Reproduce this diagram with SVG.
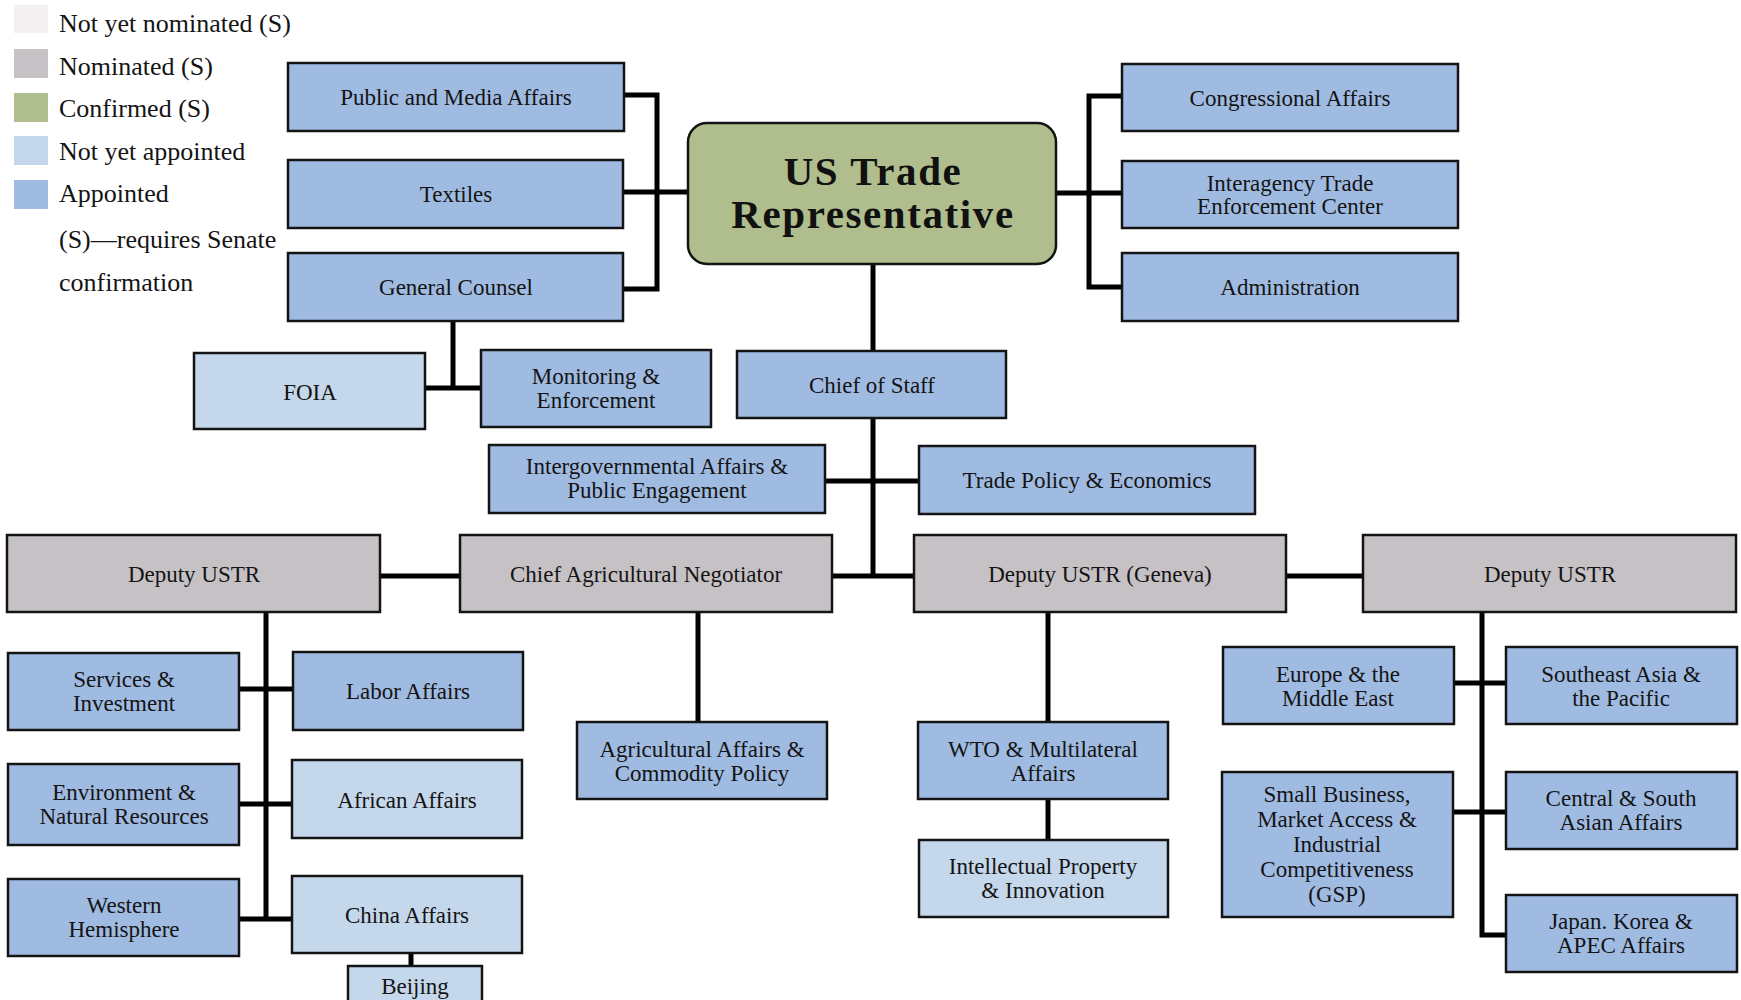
<svg xmlns="http://www.w3.org/2000/svg" width="1741" height="1000" viewBox="0 0 1741 1000">
<style>
.b{stroke:#141414;stroke-width:2.5}
.ap{fill:#a0bbe2}.na{fill:#c5d7eb}.nom{fill:#c6c1c5}.conf{fill:#afbe8c}.nyn{fill:#f2f0f1}
.t{font-family:"Liberation Serif","Times New Roman",serif;font-size:23px;fill:#141414;text-anchor:middle}
.lg{font-family:"Liberation Serif","Times New Roman",serif;font-size:26px;fill:#141414}
.tt{font-family:"Liberation Serif","Times New Roman",serif;font-size:41px;font-weight:bold;fill:#111;text-anchor:middle;letter-spacing:1.6px}
.c{stroke:#000;stroke-width:5;fill:none}
</style>
<rect width="1741" height="1000" fill="#fff"/>
<g id="legend">
<rect class="nyn" x="14" y="5" width="34" height="28"/>
<rect class="nom" x="14" y="49" width="34" height="29"/>
<rect class="conf" x="14" y="93" width="34" height="29"/>
<rect class="na" x="14" y="136" width="34" height="29"/>
<rect class="ap" x="14" y="180" width="34" height="29"/>
<text class="lg" x="59" y="32">Not yet nominated (S)</text>
<text class="lg" x="59" y="75">Nominated (S)</text>
<text class="lg" x="59" y="117">Confirmed (S)</text>
<text class="lg" x="59" y="160">Not yet appointed</text>
<text class="lg" x="59" y="202">Appointed</text>
<text class="lg" x="59" y="248">(S)—requires Senate</text>
<text class="lg" x="59" y="291">confirmation</text>
</g>
<g id="connectors">
<polyline class="c" points="624,95 657,95 657,289 624,289"/>
<line class="c" x1="624" y1="192" x2="688" y2="192"/>
<polyline class="c" points="1122,96 1089,96 1089,287 1122,287"/>
<line class="c" x1="1056" y1="193" x2="1122" y2="193"/>
<line class="c" x1="873" y1="264" x2="873" y2="351"/>
<line class="c" x1="873" y1="418" x2="873" y2="578"/>
<line class="c" x1="825" y1="481" x2="919" y2="481"/>
<line class="c" x1="832" y1="576" x2="914" y2="576"/>
<line class="c" x1="380" y1="576" x2="460" y2="576"/>
<line class="c" x1="1286" y1="576" x2="1363" y2="576"/>
<line class="c" x1="453" y1="321" x2="453" y2="388"/>
<line class="c" x1="425" y1="388" x2="481" y2="388"/>
<line class="c" x1="266" y1="612" x2="266" y2="921"/>
<line class="c" x1="239" y1="689" x2="293" y2="689"/>
<line class="c" x1="239" y1="804" x2="292" y2="804"/>
<line class="c" x1="239" y1="919" x2="292" y2="919"/>
<line class="c" x1="411" y1="953" x2="411" y2="966"/>
<line class="c" x1="698" y1="612" x2="698" y2="722"/>
<line class="c" x1="1048" y1="612" x2="1048" y2="722"/>
<line class="c" x1="1048" y1="799" x2="1048" y2="840"/>
<polyline class="c" points="1482,612 1482,935 1506,935"/>
<line class="c" x1="1454" y1="683" x2="1506" y2="683"/>
<line class="c" x1="1453" y1="812" x2="1506" y2="812"/>
</g>
<g id="ustr">
<rect class="b conf" x="688" y="123" width="368" height="141" rx="19"/>
<text class="tt" x="873" y="185">US Trade</text>
<text class="tt" x="873" y="228">Representative</text>
</g>
<g id="public-media"><rect class="b ap" x="288" y="63" width="336" height="68"/><text class="t" x="456" y="105">Public and Media Affairs</text></g>
<g id="textiles"><rect class="b ap" x="288" y="160" width="335" height="68"/><text class="t" x="456" y="202">Textiles</text></g>
<g id="general-counsel"><rect class="b ap" x="288" y="253" width="335" height="68"/><text class="t" x="456" y="295">General Counsel</text></g>
<g id="congressional"><rect class="b ap" x="1122" y="64" width="336" height="67"/><text class="t" x="1290" y="106">Congressional Affairs</text></g>
<g id="interagency"><rect class="b ap" x="1122" y="161" width="336" height="67"/><text class="t" x="1290" y="191">Interagency Trade</text><text class="t" x="1290" y="214">Enforcement Center</text></g>
<g id="administration"><rect class="b ap" x="1122" y="253" width="336" height="68"/><text class="t" x="1290" y="295">Administration</text></g>
<g id="foia"><rect class="b na" x="194" y="353" width="231" height="76"/><text class="t" x="310" y="400">FOIA</text></g>
<g id="monitoring"><rect class="b ap" x="481" y="350" width="230" height="77"/><text class="t" x="596" y="384">Monitoring &amp;</text><text class="t" x="596" y="408">Enforcement</text></g>
<g id="chief-of-staff"><rect class="b ap" x="737" y="351" width="269" height="67"/><text class="t" x="872" y="393">Chief of Staff</text></g>
<g id="intergovernmental"><rect class="b ap" x="489" y="445" width="336" height="68"/><text class="t" x="657" y="474">Intergovernmental Affairs &amp;</text><text class="t" x="657" y="498">Public Engagement</text></g>
<g id="trade-policy"><rect class="b ap" x="919" y="446" width="336" height="68"/><text class="t" x="1087" y="488">Trade Policy &amp; Economics</text></g>
<g id="deputy-left"><rect class="b nom" x="7" y="535" width="373" height="77"/><text class="t" x="194" y="582">Deputy USTR</text></g>
<g id="chief-ag"><rect class="b nom" x="460" y="535" width="372" height="77"/><text class="t" x="646" y="582">Chief Agricultural Negotiator</text></g>
<g id="deputy-geneva"><rect class="b nom" x="914" y="535" width="372" height="77"/><text class="t" x="1100" y="582">Deputy USTR (Geneva)</text></g>
<g id="deputy-right"><rect class="b nom" x="1363" y="535" width="373" height="77"/><text class="t" x="1550" y="582">Deputy USTR</text></g>
<g id="services"><rect class="b ap" x="8" y="653" width="231" height="77"/><text class="t" x="124" y="687">Services &amp;</text><text class="t" x="124" y="711">Investment</text></g>
<g id="labor"><rect class="b ap" x="293" y="652" width="230" height="78"/><text class="t" x="408" y="699">Labor Affairs</text></g>
<g id="environment"><rect class="b ap" x="8" y="764" width="231" height="81"/><text class="t" x="124" y="800">Environment &amp;</text><text class="t" x="124" y="824">Natural Resources</text></g>
<g id="african"><rect class="b na" x="292" y="760" width="230" height="78"/><text class="t" x="407" y="808">African Affairs</text></g>
<g id="western"><rect class="b ap" x="8" y="879" width="231" height="77"/><text class="t" x="124" y="913">Western</text><text class="t" x="124" y="937">Hemisphere</text></g>
<g id="china"><rect class="b na" x="292" y="876" width="230" height="77"/><text class="t" x="407" y="923">China Affairs</text></g>
<g id="beijing"><rect class="b na" x="348" y="966" width="134" height="50"/><text class="t" x="415" y="994">Beijing</text></g>
<g id="ag-affairs"><rect class="b ap" x="577" y="722" width="250" height="77"/><text class="t" x="702" y="757">Agricultural Affairs &amp;</text><text class="t" x="702" y="781">Commodity Policy</text></g>
<g id="wto"><rect class="b ap" x="918" y="722" width="250" height="77"/><text class="t" x="1043" y="757">WTO &amp; Multilateral</text><text class="t" x="1043" y="781">Affairs</text></g>
<g id="ip"><rect class="b na" x="919" y="840" width="249" height="77"/><text class="t" x="1043" y="874">Intellectual Property</text><text class="t" x="1043" y="898">&amp; Innovation</text></g>
<g id="europe"><rect class="b ap" x="1223" y="647" width="231" height="77"/><text class="t" x="1338" y="682">Europe &amp; the</text><text class="t" x="1338" y="706">Middle East</text></g>
<g id="southeast"><rect class="b ap" x="1506" y="647" width="231" height="77"/><text class="t" x="1621" y="682">Southeast Asia &amp;</text><text class="t" x="1621" y="706">the Pacific</text></g>
<g id="small-business"><rect class="b ap" x="1222" y="772" width="231" height="145"/><text class="t" x="1337" y="802">Small Business,</text><text class="t" x="1337" y="827">Market Access &amp;</text><text class="t" x="1337" y="852">Industrial</text><text class="t" x="1337" y="877">Competitiveness</text><text class="t" x="1337" y="902">(GSP)</text></g>
<g id="central-south"><rect class="b ap" x="1506" y="772" width="231" height="77"/><text class="t" x="1621" y="806">Central &amp; South</text><text class="t" x="1621" y="830">Asian Affairs</text></g>
<g id="japan-korea"><rect class="b ap" x="1506" y="895" width="231" height="77"/><text class="t" x="1621" y="929">Japan. Korea &amp;</text><text class="t" x="1621" y="953">APEC Affairs</text></g>
</svg>
